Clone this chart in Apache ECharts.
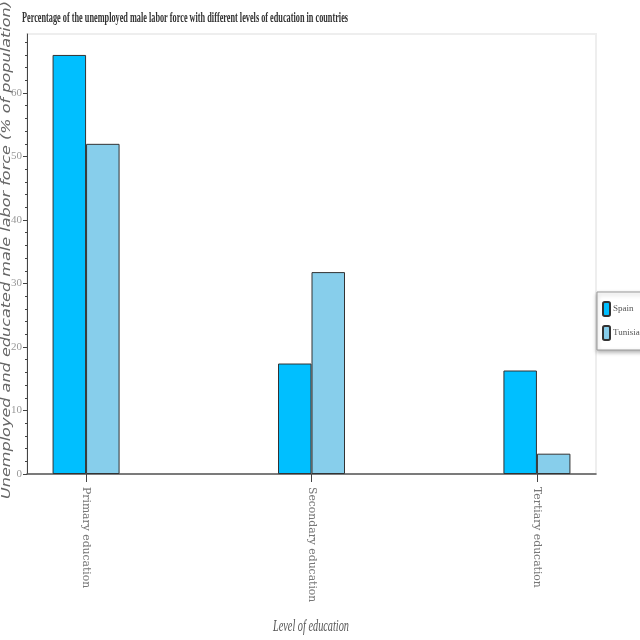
<!DOCTYPE html>
<html>
<head>
<meta charset="utf-8">
<script src="https://cdn.jsdelivr.net/npm/echarts@6/dist/echarts.min.js"></script>
<style>html,body{margin:0;padding:0;background:#fff}#c{width:640px;height:640px}</style>
</head>
<body>
<div id="c"></div>
<script>
const categories = ['Primary education', 'Secondary education', 'Tertiary education'];
const spain = [66.0, 17.4, 16.3];
const tunisia = [52.0, 31.8, 3.2];
const yMajorTicks = [0, 10, 20, 30, 40, 50, 60];
const yMinorTicks = [2,4,6,8,12,14,16,18,22,24,26,28,32,34,36,38,42,44,46,48,52,54,56,58,62,64,66,68];
const titleText = 'Percentage of the unemployed male labor force with different levels of education in countries';
const xName = 'Level of education';
const yName = 'Unemployed and educated male labor force (% of population)';

function measure(text, font) {
  const c = document.createElement('canvas').getContext('2d');
  c.font = font;
  return c.measureText(text).width;
}
const titleFont = 'bold 15px "Liberation Serif"';
const xNameFont = 'italic 16px "Liberation Serif"';
const yNameFont = 'italic 13px "DejaVu Sans"';

const chart = echarts.init(document.getElementById('c'));
const catIdx = categories.map((_, i) => i);
chart.setOption({
  animation: false,
  grid: { left: 27, right: 44, top: 34, bottom: 166, show: true, borderColor: '#eeeeee', borderWidth: 2 },
  legend: {
    orient: 'vertical', left: 597, top: 292,
    padding: [9, 10, 9, 5], itemWidth: 7, itemHeight: 14, itemGap: 8,
    icon: 'roundRect',
    backgroundColor: '#fff', borderColor: '#999', borderWidth: 1,
    shadowBlur: 4, shadowColor: 'rgba(0,0,0,0.3)', shadowOffsetY: 2,
    textStyle: { fontFamily: 'Liberation Serif', fontSize: 9, color: '#555', padding: [0, 0, 0, -2] },
    data: ['Spain', 'Tunisia']
  },
  xAxis: {
    type: 'value', min: -0.262, max: 2.262,
    splitLine: { show: false },
    axisLine: { show: true, onZero: false, lineStyle: { color: '#555', width: 1.5 } },
    axisTick: { show: true, customValues: catIdx, length: 8, lineStyle: { color: '#444' } },
    axisLabel: {
      customValues: catIdx, rotate: -90, margin: 13,
      fontFamily: 'DejaVu Serif', fontSize: 10.8, color: '#777',
      formatter: v => categories[Math.round(v)]
    }
  },
  yAxis: [{
    type: 'value', min: 0, max: 69.3,
    splitLine: { show: false },
    axisLine: { show: true, onZero: false, lineStyle: { color: '#444', width: 1 } },
    axisTick: { show: true, customValues: yMajorTicks, length: 4, lineStyle: { color: '#444' } },
    axisLabel: { customValues: yMajorTicks, margin: 5, fontFamily: 'Liberation Sans Narrow', fontSize: 11, color: '#999' }
  }, {
    type: 'value', min: 0, max: 69.3, position: 'left',
    splitLine: { show: false },
    axisLine: { show: false, onZero: false },
    axisTick: { show: true, customValues: yMinorTicks, length: 2, lineStyle: { color: '#444' } },
    axisLabel: { show: false }
  }],
  series: [{
    name: 'Spain', type: 'bar', barWidth: 33.5, barGap: '0%',
    itemStyle: { color: '#00BFFF', borderColor: '#333', borderWidth: 1 },
    data: spain.map((v, i) => [i, v])
  }, {
    name: 'Tunisia', type: 'bar', barWidth: 33.5, barGap: '0%',
    itemStyle: { color: '#87CEEB', borderColor: '#333', borderWidth: 1 },
    data: tunisia.map((v, i) => [i, v])
  }],
  graphic: [{
    type: 'text', x: 22, y: 18,
    scaleX: 326 / measure(titleText, titleFont),
    style: { text: titleText, font: titleFont, fill: '#333', verticalAlign: 'middle', align: 'left' }
  }, {
    type: 'text', x: 311, y: 627,
    scaleX: 76 / measure(xName, xNameFont),
    style: { text: xName, font: xNameFont, fill: '#555', verticalAlign: 'middle', align: 'center' }
  }, {
    type: 'text', x: 7, y: 250, rotation: Math.PI / 2,
    scaleX: 498 / measure(yName, yNameFont),
    style: { text: yName, font: yNameFont, fill: '#666', verticalAlign: 'middle', align: 'center' }
  }]
});
</script>
</body>
</html>
